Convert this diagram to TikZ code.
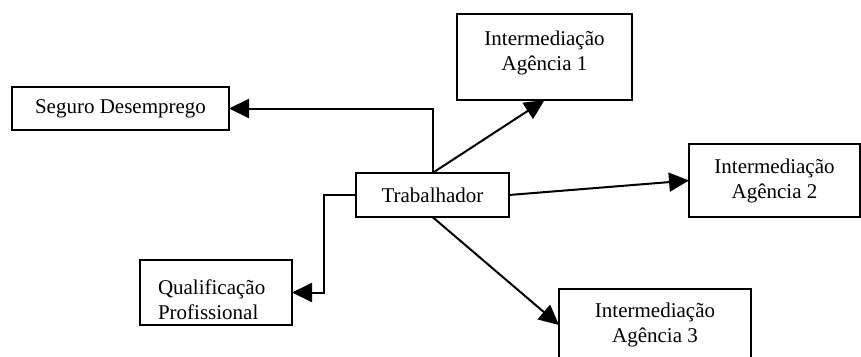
\documentclass[tikz,border=0pt]{standalone}
\usepackage{fontspec}
\setmainfont{Liberation Serif}
\usetikzlibrary{positioning,arrows.meta,calc}
\tikzset{
	box/.style={draw, line width=2pt, rectangle, inner sep=0pt, outer sep=0pt, font=\fontsize{21}{25}\selectfont, align=center},
	flow/.style={line width=2pt, -{Triangle[length=20pt,width=19pt]}},
}
\begin{document}
\begin{tikzpicture}[x=1pt,y=1pt]
	\useasboundingbox (0,0) rectangle (861,-356);
	\clip (0,0) rectangle (861,-356);
	\node[box, minimum width=153pt, minimum height=44pt] (trab) at (432.5,-195) {Trabalhador};
	\node[box, minimum width=217pt, minimum height=43pt, above left=43pt and 127pt of trab] (seguro) {Seguro Desemprego};
	\node[box, minimum width=175pt, minimum height=86pt, text depth=12pt, above=73pt of trab, xshift=112pt] (ag1) {Intermediação\\Agência 1};
	\node[box, minimum width=171pt, minimum height=73pt, right=180pt of trab, yshift=14.5pt] (ag2) {Intermediação\\Agência 2};
	\node[box, minimum width=192pt, minimum height=72pt, below right=72pt and 50pt of trab] (ag3) {Intermediação\\Agência 3};
	\node[box, minimum width=152pt, minimum height=65pt, text width=116pt, text height=29pt, align=left, below left=43pt and 64pt of trab] (qualif) {Qualificação\\Profissional};

	\draw[flow] (trab.north) |- (seguro.east);
	\draw[flow] (trab.north) -- (ag1.south);
	\draw[flow] (trab.east) -- (ag2.west);
	\draw[flow] (trab.south) -- (ag3.west);
	\draw[flow] (trab.west) -| ($(trab.west)!.5!(qualif.east)$) |- (qualif.east);
\end{tikzpicture}
\end{document}
